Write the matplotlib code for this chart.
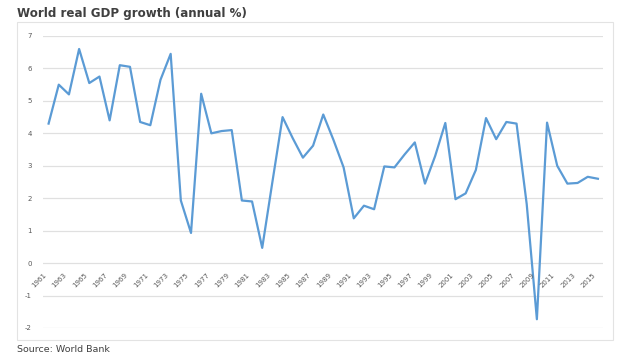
import matplotlib
matplotlib.use("Agg")
import matplotlib.pyplot as plt
import matplotlib.transforms as mtransforms
from matplotlib.patches import Rectangle

years = list(range(1961, 2016))
growth = [4.3, 5.5, 5.2, 6.6, 5.55, 5.75, 4.4, 6.1, 6.05, 4.35,
          4.25, 5.65, 6.45, 1.93, 0.93, 5.22, 4.0, 4.07, 4.1, 1.93,
          1.9, 0.47, 2.5, 4.5, 3.85, 3.25, 3.62, 4.58, 3.8, 2.95,
          1.38, 1.77, 1.66, 2.98, 2.95, 3.35, 3.72, 2.45, 3.3, 4.32,
          1.97, 2.15, 2.87, 4.47, 3.82, 4.35, 4.3, 1.82, -1.73, 4.33,
          3.0, 2.45, 2.47, 2.66, 2.6]
year_labels = [str(y) for y in range(1961, 2016, 2)]
y_ticks = list(range(-2, 8))

fig = plt.figure(figsize=(6.21, 3.55), dpi=100)
ax = fig.add_axes([43 / 621, 27 / 355, 560 / 621, 292 / 355])

# outer chart frame
fig.patches.append(Rectangle((17 / 621, 15 / 355), 596 / 621, 318 / 355,
                             transform=fig.transFigure, fill=False,
                             edgecolor="#e3e3e3", linewidth=0.8))

ax.plot(years, growth, color="#5b9bd5", linewidth=1.6, solid_joinstyle="round", zorder=3)

ax.set_xlim(1960.45, 2015.5)
ax.set_ylim(-2, 7)
ax.set_yticks(y_ticks)
ax.set_yticklabels([str(v) for v in y_ticks], fontsize=5, color="#595959")
ax.tick_params(axis="y", length=0, pad=8)
ax.set_xticks([])
ax.grid(axis="y", color="#e0e0e0", linewidth=0.9)
ax.set_axisbelow(True)
for s in ax.spines.values():
    s.set_visible(False)

# year labels hang just under the zero line
off = mtransforms.ScaledTranslation(-1 / 100, -9 / 100, fig.dpi_scale_trans)
for lab in year_labels:
    ax.text(int(lab), 0, lab, transform=ax.transData + off, rotation=45,
            ha="right", va="top", fontsize=5, color="#595959")

fig.text(17 / 621, 1 - 13 / 355, "World real GDP growth (annual %)", fontsize=8.6,
         fontweight="bold", color="#404040", va="center", ha="left")
fig.text(17 / 621, 1 - 349 / 355, "Source: World Bank", fontsize=6.8,
         color="#404040", va="center", ha="left")

fig.savefig("out.png", dpi=100, facecolor="white")
